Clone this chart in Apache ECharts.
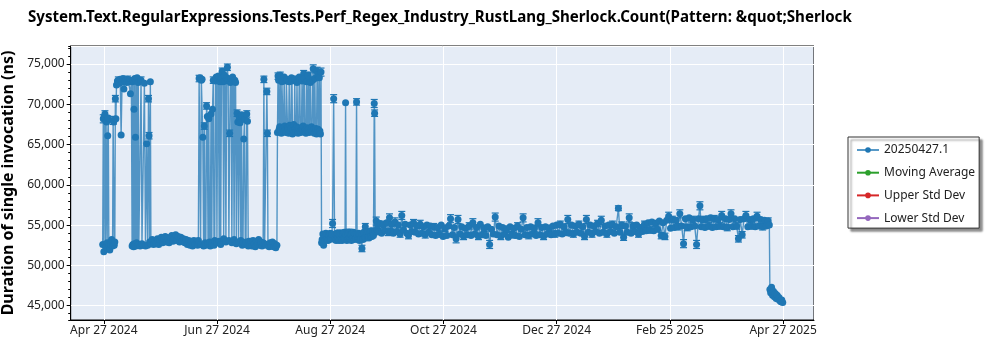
<!DOCTYPE html>
<html>
<head>
<meta charset="utf-8">
<script src="https://cdn.jsdelivr.net/npm/echarts@6/dist/echarts.min.js"></script>
<style>
html,body{margin:0;padding:0;background:#fff;}
#chart{width:1000px;height:350px;}
</style>
</head>
<body>
<div id="chart"></div>
<script>
// ---- data (x = days since Apr 27 2024, y = ns, optional 3rd = error half-width in ns) ----
const titleText = 'System.Text.RegularExpressions.Tests.Perf_Regex_Industry_RustLang_Sherlock.Count(Pattern: &quot;Sherlock';
const yAxisTitle = 'Duration of single invocation (ns)';
const seriesNames = ['20250427.1', 'Moving Average', 'Upper Std Dev', 'Lower Std Dev'];
const tickLabels = ['Apr 27 2024', 'Jun 27 2024', 'Aug 27 2024', 'Oct 27 2024', 'Dec 27 2024', 'Feb 25 2025', 'Apr 27 2025'];
const yTickValues = [45000, 50000, 55000, 60000, 65000, 70000, 75000];

const runsSegA = [
  [-0.6,52600],[-0.3,68200,500],[0.0,51700],[0.3,68500],[0.6,68800,400],[0.9,52300],[1.2,68000],[1.5,67800],
  [1.8,52800],[2.1,66100],[2.4,68300],[2.7,52500],[3.2,51900],[3.7,52600],[4.2,53200],[4.7,52400],
  [5.0,68000,500],[5.3,67800],[5.6,52500],[5.9,52900],[6.2,70700,400],[6.5,68200],[6.8,72400],[7.3,72900],
  [7.8,73000,400],[8.3,72600],[8.8,73100],[9.3,66200],[9.8,72800],[10.3,73200],[10.8,71900],[11.3,72900],
  [11.8,73000],[12.3,72700],[12.8,73100,400],[13.3,72800],[13.8,73000],[14.3,71300],[14.8,72900],[15.2,52400],
  [15.4,72800],[15.6,52600],[15.8,73000],[16.0,52300],[16.2,69400],[16.4,52700],[16.6,73200],[16.8,52500],
  [17.0,65900],[17.2,52400],[17.4,72900],[17.6,52800],[17.9,73300],[18.2,52500],[18.5,72700],[18.8,52600],
  [19.5,52400],[20.0,73000,400],[20.5,52700],[21.2,52500],[21.8,72600],[22.4,52400],[23.0,65100],[23.6,52500],
  [24.0,70700,400],[24.3,66100,400],[24.6,52900],[25.0,72800],[25.3,52700]
];
const runsSegB = [
  [26.0,53200],[26.7,52600],[27.4,53100],[28.1,52700],[28.8,53300],[29.5,52600],[30.2,53200],[30.9,53500],
  [31.6,52800],[32.3,53300],[33.0,53600],[33.7,52900],[34.4,53400],[35.1,52800],[35.8,53500],[36.5,53700],
  [37.2,53000],[37.9,53400],[38.6,53800],[39.3,53100],[40.0,53600],[40.7,52900],[41.4,53500],[42.1,53000],
  [42.8,53300],[43.5,52800],[44.2,53200],[44.9,52600],[45.6,53100],[46.3,52500],[47.0,53000],[47.7,52400],
  [48.4,53100],[49.1,52600],[49.8,53000],[50.4,52500]
];
const runsSegC = [
  [50.8,53100],[51.2,73200,400],[51.6,73300],[52.0,52600],[52.4,73000],[52.8,73100],[53.2,65900],[53.6,52400],
  [54.0,67300,400],[54.4,52800],[54.8,52500],[55.2,69800,400],[55.6,68500],[56.0,52600],[56.4,68200],[56.8,52900],
  [57.2,52400],[57.6,68800],[58.0,52700],[58.4,69400],[58.8,73000,400],[59.2,52500],[59.6,53100],[60.0,72900],
  [60.4,73400],[60.8,52800],[61.2,73100],[61.6,73500],[62.0,53000],[62.4,72800],[62.8,52600],[63.2,73200],
  [63.6,74100,400],[64.0,72800],[64.4,53300],[64.8,73600],[65.2,72900],[65.6,52900],[66.0,73300],[66.4,74600,400],
  [66.8,73000],[67.2,53100],[67.6,66400,400],[68.0,72700],[68.4,73200],[68.8,52800],[69.2,73400],[69.6,72900],
  [70.0,53200],[70.4,73000],[70.8,72700],[71.2,52700],[71.6,68900,400],[72.0,67800],[72.4,52900],[72.8,68400],
  [73.2,67700],[73.6,53100],[74.0,68700],[74.4,52500],[74.8,52800],[75.2,65700],[75.6,68100],[76.0,52600],
  [76.4,52900],[76.8,68800,400],[77.2,67900],[77.6,52400],[78.0,53000],[78.5,52600],[79.0,53000],[79.6,52400],
  [80.2,53100],[80.8,52600],[81.4,52300],[82.0,53000],[82.6,52600],[83.2,53200],[83.8,52500],[84.4,52900],
  [85.0,52400],[85.6,52800],[86.0,73100,400],[86.4,52700],[87.2,52500],[87.6,71600,400],[87.9,66400,400],[88.2,52600],
  [88.8,52300],[89.4,52800],[90.0,52400],[90.6,52900],[91.2,52300],[91.8,52700],[92.4,52200],[93.0,52500]
];
const runsSegD = [
  [93.3,66500],[93.6,73500,400],[93.9,73000],[94.2,66900],[94.5,67200],[94.8,73600,400],[95.1,66700],[95.4,66400],
  [95.7,72800],[96.0,73000],[96.3,67000],[96.6,66600],[96.9,73400],[97.2,67300],[97.5,66800],[97.8,66500],
  [98.1,72900],[98.4,73100],[98.7,67100],[99.0,66900],[99.3,66400],[99.6,72800],[99.9,67400],[100.2,66700],
  [100.5,67000],[100.8,73300],[101.1,72900],[101.4,66300],[101.7,66800],[102.0,67500],[102.3,66600],[102.6,73100,400],
  [102.9,67000],[103.2,66500],[103.5,67200],[103.8,72700],[104.1,66800],[104.4,66400],[104.7,67100],[105.0,73400],
  [105.3,73000],[105.6,66700],[105.9,66500],[106.2,67000],[106.5,72900],[106.8,66800],[107.1,67300],[107.4,73800,400],
  [107.7,73200],[108.0,66600],[108.3,66900],[108.6,66400],[108.9,72800],[109.2,67100],[109.5,66700],[109.8,73600,400],
  [110.1,67000],[110.4,66500],[110.7,73100],[111.0,72700],[111.3,66800],[111.6,67200],[111.9,66600],[112.2,73000],
  [112.5,74400,500],[112.8,66900],[113.1,66400],[113.4,73200],[113.7,66700],[114.0,67000],[114.3,66300],[114.6,74100,500],
  [114.9,73700],[115.2,66900],[115.5,66600],[115.8,73300],[116.1,66700],[116.4,66300],[116.7,74000,500],[117.0,52800]
];
const runsSegE = [
  [117.3,53200],[117.7,53900],[118.1,52500],[118.5,53800],[118.9,53100],[119.3,54000],[119.7,53200],[120.1,53900],
  [120.5,53100],[120.9,53800],[121.3,53200],[121.7,54000],[122.1,53300],[122.5,53900],[122.9,55200,500],[123.5,70700,500],
  [124.0,53200],[124.4,53900],[124.8,53100],[125.2,54000],[125.6,53300],[126.0,53900],[126.4,53100],[126.8,54000,400],
  [127.2,53200],[127.6,53900],[128.0,53100],[128.4,53900],[128.8,53300],[129.2,54100],[129.6,53200],[129.9,70200],
  [130.2,53800],[130.6,53100],[131.0,54000],[131.4,53300],[131.8,54100,400],[132.2,53200],[132.6,53900],[133.0,53100],
  [133.4,54000],[133.8,53300],[134.2,54100],[134.6,53200],[135.0,53900],[135.4,53300],[135.8,70300,400],[136.1,53800],
  [136.5,53200],[136.9,54000],[137.3,53100],[137.7,53900],[138.1,53300],[138.7,52100,400],[138.9,53900],[139.3,53200],
  [139.7,54100],[140.1,53400],[140.5,54800,400],[140.9,53400],[141.3,54100],[141.7,53500],[142.1,54200],[142.5,53400],
  [142.9,54100],[143.3,53600],[143.7,54300],[144.1,53600],[144.5,54200,400],[144.9,53700],[145.3,70100,500],[145.5,68900,400],
  [145.8,54300],[146.4,55500,500],[146.8,54400],[147.1,55000]
];
const runsSegF1 = [
  [147.5,54200,400],[148.4,55200],[149.3,54000],[150.2,55000,500],[151.1,54300],[152.0,55300],[152.9,54100,400],[153.5,55900,500],
  [154.2,54300],[154.7,55100],[155.6,54000],[156.5,55400,500],[157.4,54200],[158.3,55000],[159.2,53900,400],[160.1,56200,500],
  [161.0,54400],[161.9,55100],[162.8,54000],[163.7,53700,400],[164.6,55000],[165.5,54200],[166.4,55300,400],[167.3,54100],
  [168.2,54900],[169.1,53900],[170.0,55100,500],[170.9,54000],[171.8,54800],[172.7,53800,400],[173.6,55000],[174.5,54100],
  [175.4,54900]
];
const runsSegF2 = [
  [176.3,53800],[177.3,54800,400],[178.3,53700],[179.3,54700],[180.3,53900,400],[181.3,55000],[182.3,53600],[183.3,54600,400],
  [184.3,53700],[185.3,54900],[186.3,55800,500],[187.3,53800],[188.3,54700],[189.3,53300,500],[190.3,55700,500],[191.3,53900],
  [192.3,54800],[193.3,53600,400],[194.3,54600],[195.3,53800],[196.3,54900,400],[197.3,53700],[198.3,55300,500],[199.3,53900],
  [200.3,54700],[201.3,53600,400],[202.3,55100],[203.3,53800],[204.3,54600,400],[205.3,53700],[206.3,54800],[207.3,52600,500],
  [208.3,54500],[209.3,53900],[210.3,56000,500],[211.3,53800],[212.3,54900],[213.3,53600,400],[214.3,54700],[215.3,53900],
  [216.3,54500,400],[217.3,53500],[218.3,54800],[219.3,53800,400],[220.3,54600],[221.3,53700],[222.3,54900,400],[223.3,53600],
  [224.3,54500],[225.3,55900,500],[226.3,53800],[227.3,54700],[228.3,53700,400],[229.3,54800],[230.3,53900],[231.3,54600,400],
  [232.3,53700],[233.3,55300,500],[234.3,53800],[235.3,54700],[236.3,53600,400],[237.3,54800],[238.3,53900],[239.3,54600,400],
  [240.3,53800]
];
const runsSegF3 = [
  [241.3,54900],[242.3,53900,400],[243.3,55000],[244.3,54000],[245.3,55100,400],[246.3,53900],[247.3,54800],[248.3,54100,400],
  [249.3,55700,500],[250.3,54000],[251.3,55000],[252.3,53900,400],[253.3,54900],[254.3,54100],[255.3,55100,400],[256.3,54000],
  [257.3,54800],[258.3,53600,400],[259.3,55700,500],[260.3,54100],[261.3,55000],[262.3,53900,400],[263.3,54900],[264.3,54200],
  [265.3,55200,400],[266.3,54000],[267.3,55600,500],[268.3,54100],[269.3,54900],[270.3,53900,400],[271.3,55000],[272.3,54200],
  [273.3,55100,400],[274.3,54000],[275.3,54800],[276.5,57100,300],[277.3,54100],[278.3,55000,400],[279.3,53500,400],[280.3,54900],
  [281.3,54100],[282.3,55900,500],[283.3,54000],[284.3,54900,400],[285.3,54200],[286.3,55000],[287.3,53900,400],[288.3,54700]
];
const runsSegF4 = [
  [289.5,54200],[290.5,55100,400],[291.5,54300],[292.5,55300],[293.5,54400,400],[294.5,55400],[295.5,54300],[296.5,55200,400],
  [297.5,54500],[298.5,55500],[299.5,53700,400],[300.5,55300],[301.5,53600,400],[302.5,55600],[303.5,56100,500],[304.5,54600],
  [305.5,55700,400],[306.5,54700],[307.5,55600],[308.5,54800,400],[309.5,56400,500],[310.5,54900],[311.5,52700,500],[312.5,55800],
  [313.5,54700,400],[314.5,55900],[315.5,54800],[316.5,55700,400],[317.5,54900],[318.5,52600,500],[319.5,55800],[320.3,57400,500],
  [321.0,54800],[322.0,55700,400],[323.0,54700],[324.0,55800],[325.0,54900,400],[326.0,55900],[327.0,54700],[328.0,55800,400],
  [329.0,54800],[330.0,55700],[331.0,54900,400],[332.0,56200,500],[333.0,54800],[334.0,55800],[335.0,54700,400],[336.0,55700],
  [337.0,56400,500],[338.0,54800],[339.0,55800],[340.0,54900,400],[341.0,53300,400],[342.0,55700],[343.0,53800,400],[344.0,55800],
  [345.0,56200,500],[346.0,54800],[347.0,55700],[348.0,54900,400],[349.0,55800],[350.0,54800],[351.0,56100,500],[352.0,54900],
  [353.0,55700],[354.0,54800,400],[355.0,55600],[356.0,54900],[357.0,55500,400],[357.6,55000]
];
const runsSegG = [
  [357.9,47000],[358.3,46600],[358.8,47300],[359.3,46300],[359.8,46800],[360.3,46100],[360.8,46500],[361.3,45900],
  [361.8,46300],[362.3,45800],[362.8,46000],[363.3,45600],[363.8,45500],[364.3,45700],[364.8,45400]
];

// ---- build ----
const runs = [].concat(runsSegA, runsSegB, runsSegC, runsSegD, runsSegE, runsSegF1, runsSegF2, runsSegF3, runsSegF4, runsSegG);
const lineData = runs.map(p => [p[0], p[1]]);
const errData = runs.filter(p => p.length > 2);

const X_INTERVAL = 365 / 6;
const Y_MIN = 43220, Y_MAX = 77240;
const seriesColors = ['#1f77b4', '#2ca02c', '#d62728', '#9467bd'];
const FONT = 'Noto Sans';

const chart = echarts.init(document.getElementById('chart'), null, {renderer: 'canvas'});

const series = [
  {
    name: 'errbars',
    type: 'custom',
    coordinateSystem: 'cartesian2d',
    data: errData,
    encode: {x: 0, y: 1},
    z: 1,
    silent: true,
    renderItem: function (params, api) {
      const x = api.value(0), y = api.value(1), e = api.value(2);
      const top = api.coord([x, y + e]);
      const bot = api.coord([x, y - e]);
      const hw = 3.5;
      const st = {stroke: seriesColors[0], lineWidth: 1.2};
      return {
        type: 'group',
        children: [
          {type: 'line', shape: {x1: top[0], y1: top[1], x2: bot[0], y2: bot[1]}, style: st},
          {type: 'line', shape: {x1: top[0] - hw, y1: top[1], x2: top[0] + hw, y2: top[1]}, style: st},
          {type: 'line', shape: {x1: bot[0] - hw, y1: bot[1], x2: bot[0] + hw, y2: bot[1]}, style: st}
        ]
      };
    }
  },
  {
    name: seriesNames[0],
    type: 'line',
    data: lineData,
    z: 2,
    symbol: 'circle',
    symbolSize: 7,
    showSymbol: true,
    showAllSymbol: true,
    sampling: null,
    color: seriesColors[0],
    itemStyle: {color: seriesColors[0]},
    lineStyle: {width: 1.4, color: seriesColors[0], opacity: 0.75}
  }
];
for (let i = 1; i < 4; i++) {
  series.push({
    name: seriesNames[i], type: 'line', data: [], symbol: 'circle', symbolSize: 6,
    color: seriesColors[i], itemStyle: {color: seriesColors[i]}, lineStyle: {width: 1.5, color: seriesColors[i]}
  });
}

chart.setOption({
  animation: false,
  backgroundColor: '#ffffff',
  textStyle: {fontFamily: FONT},
  title: {
    text: titleText,
    left: 28, top: 10, padding: 0,
    textStyle: {fontFamily: FONT, fontSize: 15.1, fontWeight: 'bold', color: '#000'}
  },
  legend: {
    data: seriesNames,
    orient: 'vertical',
    left: 848, top: 137,
    padding: [6, 4, 3, 8],
    itemWidth: 22, itemHeight: 7, itemGap: 8.7,
    backgroundColor: '#ffffff',
    borderColor: '#333333', borderWidth: 1, borderRadius: 0,
    shadowColor: 'rgba(0,0,0,0.45)', shadowBlur: 2, shadowOffsetX: 3, shadowOffsetY: 3,
    textStyle: {fontFamily: FONT, fontSize: 12, color: '#222', lineHeight: 14},
    selectedMode: false
  },
  grid: {
    left: 70.7, right: 186, top: 46, bottom: 30,
    show: true, backgroundColor: '#E5ECF6', borderColor: '#000', borderWidth: 1,
    containLabel: false,
    outerBoundsMode: 'none'
  },
  xAxis: {
    type: 'value',
    min: -17.8, max: 381.6,
    minInterval: X_INTERVAL, maxInterval: X_INTERVAL,
    axisLine: {show: true, onZero: false, lineStyle: {color: '#000', width: 1}},
    axisTick: {show: true, length: 4, lineStyle: {color: '#000'}},
    splitLine: {show: true, lineStyle: {color: '#ffffff', width: 1}},
    axisLabel: {
      show: true, margin: 5, fontFamily: FONT, fontSize: 12, color: '#222',
      showMinLabel: false, showMaxLabel: false,
      formatter: function (v) {
        const idx = Math.round(v / X_INTERVAL);
        if (Math.abs(v - idx * X_INTERVAL) > 0.01 || idx < 0 || idx >= tickLabels.length) return '';
        return tickLabels[idx];
      }
    }
  },
  yAxis: [
    {
      type: 'value',
      min: Y_MIN, max: Y_MAX,
      minInterval: 5000, maxInterval: 5000,
      name: yAxisTitle,
      nameLocation: 'middle',
      nameGap: 46,
      nameTextStyle: {fontFamily: FONT, fontSize: 16, fontWeight: 'bold', color: '#000'},
      axisLine: {show: true, onZero: false, lineStyle: {color: '#000', width: 1}},
      axisTick: {show: true, length: 4, lineStyle: {color: '#000'}},
      minorTick: {show: false},
      splitLine: {show: true, lineStyle: {color: '#ffffff', width: 1}},
      axisLabel: {
        show: true, margin: 6, fontFamily: FONT, fontSize: 12, color: '#222',
        showMinLabel: false, showMaxLabel: false,
        formatter: function (v) {
          return yTickValues.indexOf(v) >= 0 ? v.toLocaleString('en-US') : '';
        }
      }
    },
    {
      // minor ticks every 1,000 ns on the left edge
      type: 'value',
      position: 'left',
      min: Y_MIN, max: Y_MAX,
      minInterval: 1000, maxInterval: 1000,
      axisLine: {show: false, onZero: false},
      axisTick: {show: true, length: 2.5, lineStyle: {color: '#000'}},
      splitLine: {show: false},
      axisLabel: {show: false}
    }
  ],
  series: series
});
</script>
</body>
</html>
